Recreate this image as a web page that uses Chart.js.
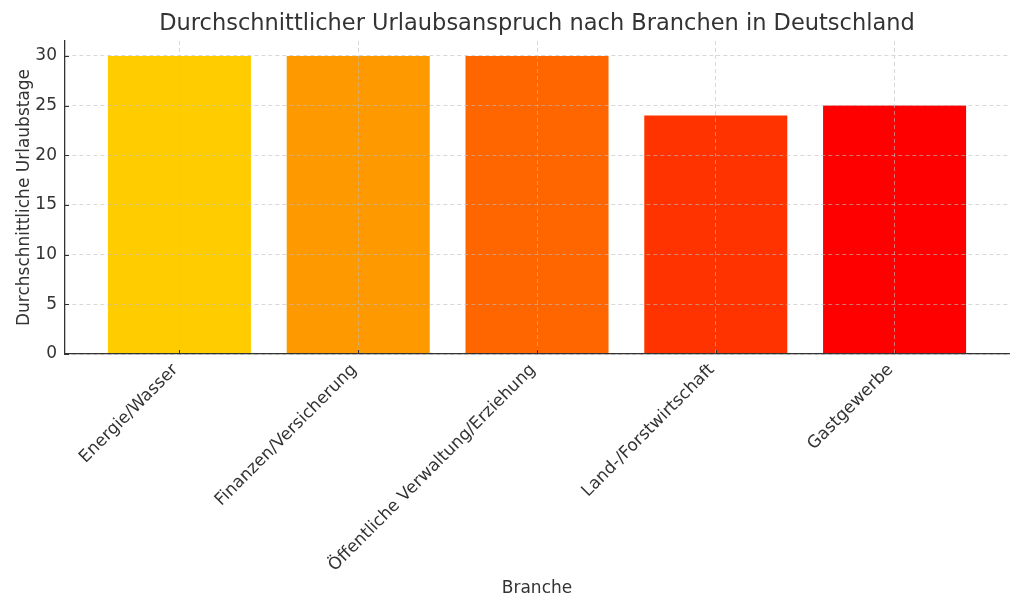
<!DOCTYPE html>
<html>
<head>
<meta charset="utf-8">
<script src="https://cdn.jsdelivr.net/npm/chart.js@4/dist/chart.umd.min.js"></script>
<style>
html,body{margin:0;padding:0;background:#fff;}
#wrap{width:1024px;height:614px;position:relative;}
</style>
</head>
<body>
<div id="wrap"><canvas id="c" width="1024" height="614"></canvas></div>
<script>
const categories = ["Energie/Wasser", "Finanzen/Versicherung", "Öffentliche Verwaltung/Erziehung", "Land-/Forstwirtschaft", "Gastgewerbe"];
const urlaubstage = [30, 30, 30, 24, 25];
const barColors = ["#FFCC00", "#FF9900", "#FF6600", "#FF3300", "#FF0000"];
const yTicks = [0, 5, 10, 15, 20, 25, 30];
const titleText = "Durchschnittlicher Urlaubsanspruch nach Branchen in Deutschland";
const xTitle = "Branche";
const yTitle = "Durchschnittliche Urlaubstage";

const FONT = "'DejaVu Sans', sans-serif";
const TXT = "#333333";
const GRID = "rgba(190,190,190,0.6)";

// short inward tick marks (matplotlib style "in"), positioned via the scales
const inwardTicks = {
  id: 'inwardTicks',
  afterDraw(chart) {
    const {ctx, chartArea, scales} = chart;
    ctx.save();
    ctx.strokeStyle = TXT;
    ctx.lineWidth = 1;
    ctx.beginPath();
    scales.x.ticks.forEach(t => {
      const px = Math.round(scales.x.getPixelForValue(t.value)) + 0.5;
      ctx.moveTo(px, chartArea.bottom);
      ctx.lineTo(px, chartArea.bottom - 4);
    });
    scales.y.ticks.forEach(t => {
      const py = Math.round(scales.y.getPixelForValue(t.value)) + 0.5;
      ctx.moveTo(chartArea.left, py);
      ctx.lineTo(chartArea.left + 4, py);
    });
    ctx.stroke();
    ctx.restore();
  }
};

new Chart(document.getElementById('c'), {
  type: 'bar',
  data: {
    datasets: [{
      data: urlaubstage.map((v, i) => ({x: i, y: v})),
      backgroundColor: barColors,
      borderWidth: 0,
      barPercentage: 0.8,
      categoryPercentage: 1.0
    }]
  },
  plugins: [inwardTicks],
  options: {
    responsive: false,
    animation: false,
    layout: {padding: {left: 0, right: 15, top: 0, bottom: 0}},
    plugins: {
      legend: {display: false},
      tooltip: {enabled: false},
      title: {
        display: true,
        text: titleText,
        fullSize: false,
        color: TXT,
        font: {family: FONT, size: 22.5, weight: 'normal', lineHeight: 1.2},
        padding: {top: 11, bottom: 3}
      }
    },
    scales: {
      x: {
        type: 'linear',
        min: -0.64,
        max: 4.64,
        offset: false,
        afterBuildTicks: (s) => { s.ticks = categories.map((c, i) => ({value: i})); },
        afterFit: (s) => { s.height = 260; },
        ticks: {
          autoSkip: false,
          minRotation: 45,
          maxRotation: 45,
          padding: 6,
          labelOffset: -4,
          color: TXT,
          font: {family: FONT, size: 17},
          callback: (v) => categories[v] !== undefined ? categories[v] : ''
        },
        grid: {
          offset: false,
          color: GRID, lineWidth: 1, z: 1,
          drawTicks: false
        },
        border: {display: true, color: TXT, width: 1.3, dash: [4, 3], z: 2},
        title: {
          display: true, text: xTitle, color: TXT,
          font: {family: FONT, size: 17, lineHeight: 1.2},
          padding: {top: 0, bottom: 15.3}
        }
      },
      y: {
        min: 0,
        max: 31.5,
        afterBuildTicks: (s) => { s.ticks = yTicks.map(v => ({value: v})); },
        afterFit: (s) => { s.width = 65; },
        ticks: {
          padding: 8,
          color: TXT,
          font: {family: FONT, size: 17}
        },
        grid: {
          color: GRID, lineWidth: 1, z: 1,
          drawTicks: false
        },
        border: {display: true, color: TXT, width: 1.3, dash: [4, 3], z: 2},
        title: {
          display: true, text: yTitle, color: TXT,
          font: {family: FONT, size: 17, lineHeight: 1.2},
          padding: {top: 14.3, bottom: 0}
        }
      }
    }
  }
});
</script>
</body>
</html>
